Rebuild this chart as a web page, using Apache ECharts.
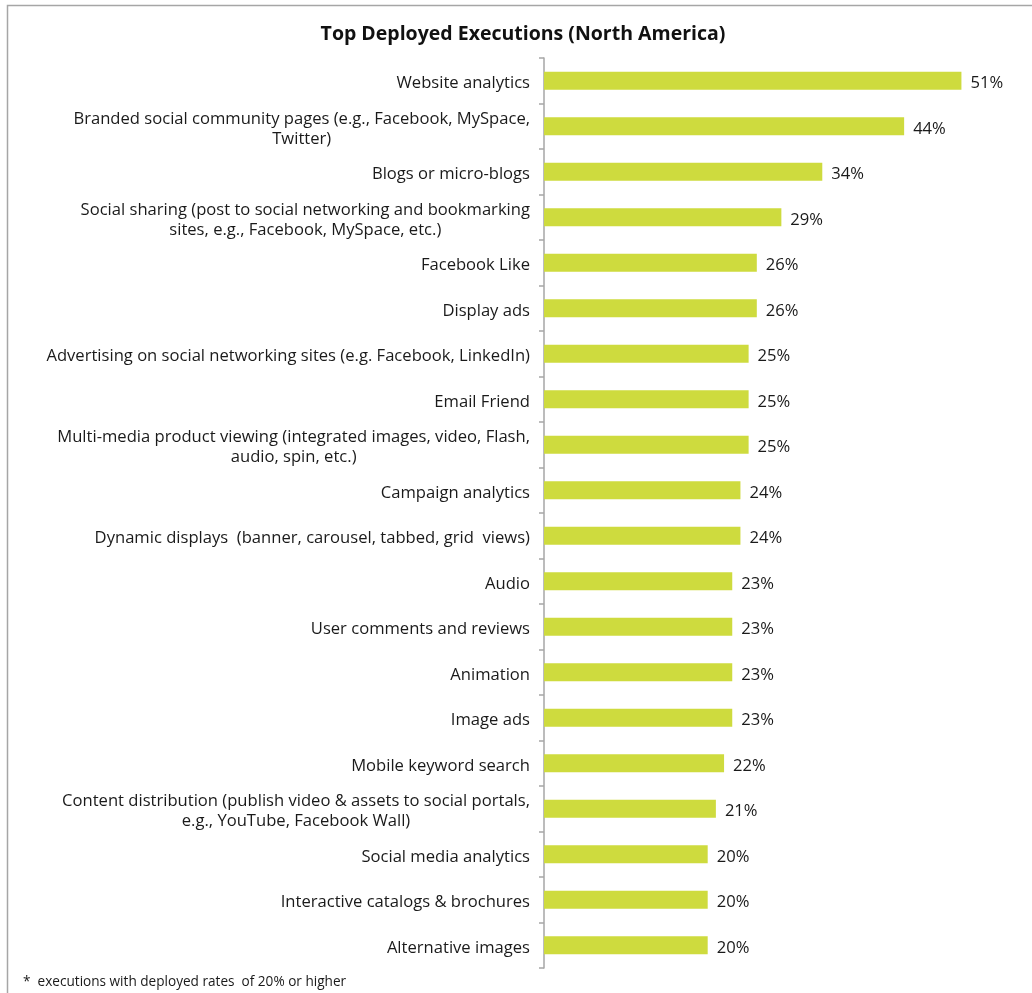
<!DOCTYPE html>
<html>
<head>
<meta charset="utf-8">
<title>Top Deployed Executions (North America)</title>
<script src="https://cdn.jsdelivr.net/npm/echarts@6/dist/echarts.min.js"></script>
<style>
  html, body { margin: 0; padding: 0; background: #ffffff; }
  #chart { width: 1032px; height: 993px; }
</style>
</head>
<body>
<div id="chart"></div>
<script>
// Deployed executions, top to bottom
const categories = [
  'Website analytics',
  'Branded social community pages (e.g., Facebook, MySpace,\nTwitter)',
  'Blogs or micro-blogs',
  'Social sharing (post to social networking and bookmarking\nsites, e.g., Facebook, MySpace, etc.)',
  'Facebook Like',
  'Display ads',
  'Advertising on social networking sites (e.g. Facebook, LinkedIn)',
  'Email Friend',
  'Multi-media product viewing (integrated images, video, Flash,\naudio, spin, etc.)',
  'Campaign analytics',
  'Dynamic displays  (banner, carousel, tabbed, grid  views)',
  'Audio',
  'User comments and reviews',
  'Animation',
  'Image ads',
  'Mobile keyword search',
  'Content distribution (publish video & assets to social portals,\ne.g., YouTube, Facebook Wall)',
  'Social media analytics',
  'Interactive catalogs & brochures',
  'Alternative images'
];

// Deployed rate, percent
const values = [51, 44, 34, 29, 26, 26, 25, 25, 25, 24, 24, 23, 23, 23, 23, 22, 21, 20, 20, 20];

const titleText = 'Top Deployed Executions (North America)';
const footnoteText = '*  executions with deployed rates  of 20% or higher';

const FONT = '"Open Sans", "Noto Sans", sans-serif';
const TEXT_COLOR = '#1a1a1a';
const LABEL_SIZE = 16.6;

const chart = echarts.init(document.getElementById('chart'), null, { renderer: 'canvas' });

chart.setOption({
  backgroundColor: '#ffffff',
  animation: false,
  title: {
    text: titleText,
    left: 523,
    top: 24,
    textAlign: 'center',
    padding: 0,
    textStyle: {
      fontFamily: FONT,
      fontSize: 19.5,
      fontWeight: 'bold',
      color: '#111111'
    }
  },
  grid: {
    left: 544,
    right: 1,
    top: 58,
    bottom: 25
  },
  xAxis: {
    type: 'value',
    min: 0,
    max: 59.5,
    show: false,
    splitLine: { show: false }
  },
  yAxis: {
    type: 'category',
    data: categories,
    inverse: true,
    axisLine: {
      show: true,
      lineStyle: { color: '#a6a6a6', width: 1.5 }
    },
    axisTick: {
      show: true,
      inside: false,
      length: 5,
      lineStyle: { color: '#a6a6a6', width: 1.5 }
    },
    axisLabel: {
      margin: 14,
      align: 'right',
      padding: [6, 0, 0, 0],
      fontFamily: FONT,
      fontSize: LABEL_SIZE,
      color: TEXT_COLOR,
      formatter: function (v) {
        return v.split('\n').map(function (line) { return '{c|' + line + '}'; }).join('\n');
      },
      rich: {
        c: {
          align: 'center',
          fontFamily: FONT,
          fontSize: LABEL_SIZE,
          lineHeight: 20,
          color: TEXT_COLOR
        }
      }
    },
    splitLine: { show: false }
  },
  series: [{
    type: 'bar',
    data: values,
    barCategoryGap: '60%',
    itemStyle: { color: '#cedb3e' },
    label: {
      show: true,
      position: 'right',
      distance: 9,
      offset: [0, 3],
      formatter: '{c}%',
      fontFamily: FONT,
      fontSize: LABEL_SIZE,
      color: TEXT_COLOR
    }
  }],
  graphic: [
    {
      type: 'rect',
      silent: true,
      shape: { x: 7.5, y: 5.5, width: 1200, height: 1200 },
      style: { fill: 'none', stroke: '#a6a6a6', lineWidth: 1.5 }
    },
    {
      type: 'text',
      silent: true,
      left: 23,
      top: 975,
      style: {
        text: footnoteText,
        fontFamily: FONT,
        fontSize: 13.6,
        fill: TEXT_COLOR
      }
    }
  ]
});
</script>
</body>
</html>
